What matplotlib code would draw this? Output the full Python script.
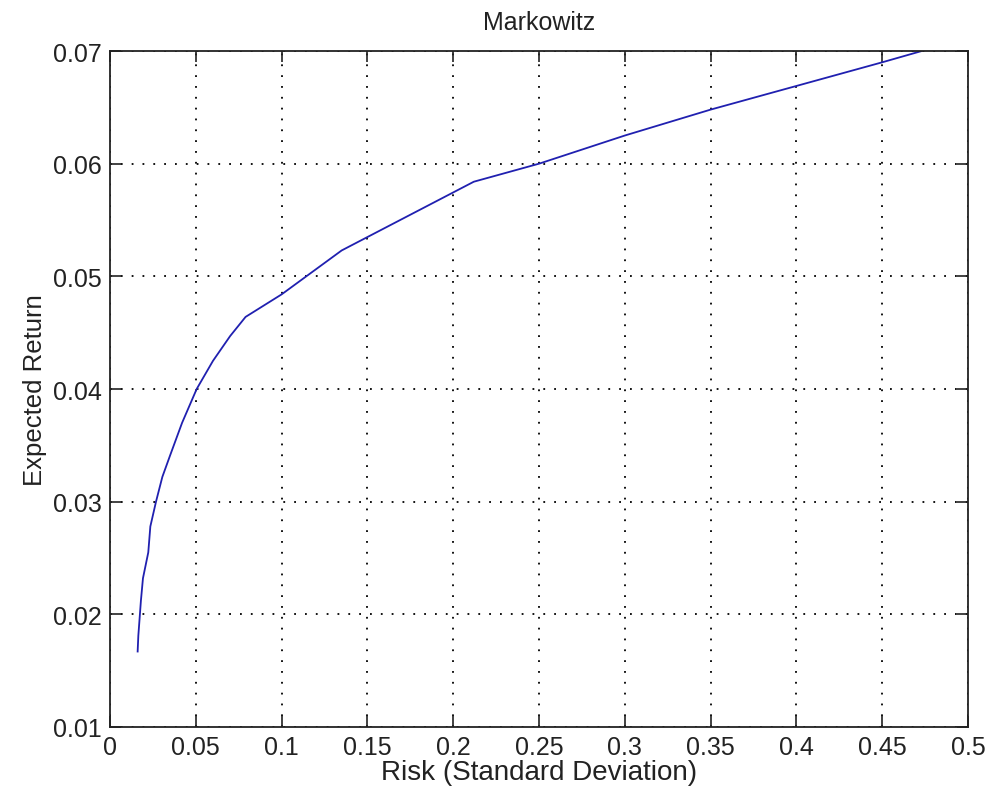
import matplotlib.pyplot as plt
import numpy as np

# efficient frontier points (risk, expected return)
risk = [0.0161, 0.0165, 0.0180, 0.0192, 0.0223, 0.0235, 0.0268, 0.0305,
        0.0350, 0.0420, 0.0505, 0.0600, 0.0700, 0.0790, 0.1000, 0.1350,
        0.2120, 0.2500, 0.3000, 0.3500, 0.4000, 0.4500, 0.4730]
ret = [0.0167, 0.0181, 0.0212, 0.0232, 0.0255, 0.0278, 0.0300, 0.0322,
       0.0341, 0.0370, 0.0400, 0.0425, 0.0447, 0.0464, 0.0484, 0.0523,
       0.0584, 0.0600, 0.0625, 0.0648, 0.0669, 0.0690, 0.0700]

xticks = np.arange(0, 0.51, 0.05)
yticks = np.arange(0.01, 0.071, 0.01)
xtick_labels = ["0", "0.05", "0.1", "0.15", "0.2", "0.25", "0.3", "0.35", "0.4", "0.45", "0.5"]
ytick_labels = ["0.01", "0.02", "0.03", "0.04", "0.05", "0.06", "0.07"]

plt.rcParams['font.family'] = ['Liberation Sans', 'DejaVu Sans']

fig = plt.figure(figsize=(9.92, 8.03), dpi=100)
ax = fig.add_axes([0.1109, 0.0934, 0.8649, 0.8418])

ax.plot(risk, ret, color='#2020b0', linewidth=1.3)

ax.set_xlim(0, 0.5)
ax.set_ylim(0.01, 0.07)
ax.set_xticks(xticks)
ax.set_xticklabels(xtick_labels)
ax.set_yticks(yticks)
ax.set_yticklabels(ytick_labels)
ax.tick_params(direction='in', length=8, width=1.2, top=True, right=True,
               labelsize=18, colors='#222222', pad=6)
for s in ax.spines.values():
    s.set_linewidth(1.3)
    s.set_color('#222222')

ax.grid(True, color='black', linestyle=(0, (1, 5)), linewidth=1.3)

ax.set_title("Markowitz", fontsize=18, pad=16, color='#222222')
ax.set_xlabel("Risk (Standard Deviation)", fontsize=20, labelpad=0, color='#222222')
ax.set_ylabel("Expected Return", fontsize=18.5, labelpad=4, color='#222222')

fig.savefig("out.png", dpi=100)
